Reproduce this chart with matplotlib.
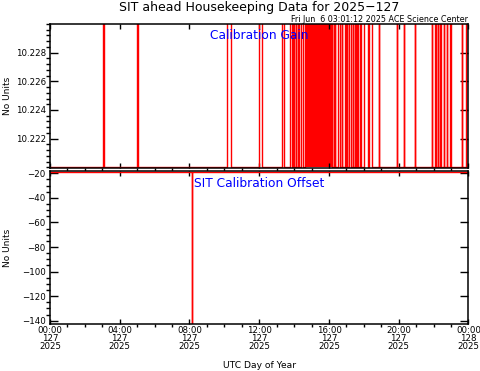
import numpy as np
import matplotlib
matplotlib.use('Agg')
import matplotlib.pyplot as plt
from matplotlib.ticker import MultipleLocator, FixedLocator, FormatStrFormatter

plt.rcParams['font.family'] = ['DejaVu Sans']

# hours of day 127 when the calibration gain sits at its high level
gain_high = [(3.05, 3.07), (5.00, 5.02), (10.16, 10.36), (11.97, 12.14),
             (13.30, 13.43), (13.78, 13.88), (13.96, 13.98), (14.11, 14.13),
             (14.25, 14.27), (14.39, 14.51), (14.64, 16.17), (16.26, 16.28),
             (16.35, 16.37), (16.50, 16.65), (16.74, 16.76), (16.93, 16.95),
             (17.03, 17.05), (17.13, 17.27), (17.37, 17.39), (17.50, 17.52),
             (17.63, 17.65), (17.79, 17.81), (17.99, 18.22), (18.28, 18.47),
             (18.84, 18.86), (19.90, 19.92), (20.28, 20.30), (20.92, 20.94),
             (21.91, 21.93), (22.10, 22.12), (22.23, 22.25), (22.38, 22.40),
             (22.57, 22.59), (22.77, 22.79), (22.96, 22.98), (23.63, 23.65),
             (23.83, 24.00)]
# stretch where the gain toggles too fast to resolve
gain_dense = [(14.64, 16.17)]
gain_low = 10.2200
gain_top = 10.2310
gain_ticks = [10.222, 10.224, 10.226, 10.228]

offset_level = -18.9
offset_dips = [(8.13, 8.15)]
offset_dip_value = -150.0

tick_hours = [0, 4, 8, 12, 16, 20, 24]
tick_labels = ['00:00\n127\n2025', '04:00\n127\n2025', '08:00\n127\n2025',
               '12:00\n127\n2025', '16:00\n127\n2025', '20:00\n127\n2025',
               '00:00\n128\n2025']


def step_series(intervals, base, level):
    t = [0.0]
    v = [base]
    for s, e in intervals:
        t += [s, s, e, e]
        v += [base, level, level, base]
    t.append(24.0)
    v.append(base)
    return np.array(t), np.array(v)


fig = plt.figure(figsize=(4.81, 3.71), dpi=100)
ax1 = fig.add_axes([50 / 481, 1 - 168 / 371, 418.5 / 481, 144 / 371])
ax2 = fig.add_axes([50 / 481, 1 - 324 / 371, 418.5 / 481, 153 / 371])

t, v = step_series(gain_high, gain_low, gain_top)
ax1.plot(t, v, color='red', lw=1.0)
for s, e in gain_dense:
    ax1.fill_between([s, e], gain_low, gain_top, color='red', lw=0)
ax1.set_ylim(10.21995, 10.2300)
ax1.yaxis.set_major_locator(FixedLocator(gain_ticks))
ax1.yaxis.set_minor_locator(MultipleLocator(0.0004))
ax1.yaxis.set_major_formatter(FormatStrFormatter('%.3f'))
ax1.text(0.5, 0.965, 'Calibration Gain', color='blue', fontsize=8.8,
         ha='center', va='top', transform=ax1.transAxes)

t, v = step_series(offset_dips, offset_level, offset_dip_value)
ax2.plot(t, v, color='red', lw=1.0)
ax2.set_ylim(-142.7, -18.1)
ax2.yaxis.set_major_locator(MultipleLocator(20))
ax2.yaxis.set_minor_locator(MultipleLocator(5))
ax2.text(0.5, 0.96, 'SIT Calibration Offset', color='blue', fontsize=8.8,
         ha='center', va='top', transform=ax2.transAxes)

for ax in (ax1, ax2):
    ax.set_xlim(0, 24)
    ax.set_xticks(tick_hours)
    ax.xaxis.set_minor_locator(MultipleLocator(1))
    ax.tick_params(direction='in', top=True, right=True, labelsize=6.2)
    ax.tick_params(axis='y', pad=3)
    ax.tick_params(axis='x', pad=1.5)
    ax.tick_params(axis='x', which='major', length=3.5, width=1)
    ax.tick_params(axis='x', which='minor', length=1.8, width=1)
    ax.tick_params(axis='y', which='major', length=6, width=1)
    ax.tick_params(axis='y', which='minor', length=3, width=1)
    ax.set_ylabel('No Units', fontsize=6.5)
    ax.yaxis.set_label_coords(-0.091, 0.5)
    for sp in ax.spines.values():
        sp.set_linewidth(1.1)

ax1.set_xticklabels([])
ax2.set_xticklabels(tick_labels, linespacing=0.87)
ax2.set_xlabel('UTC Day of Year', fontsize=6.6)
ax2.xaxis.set_label_coords(0.5, -0.245)

fig.text(259 / 481, 1 - 11 / 371, 'SIT ahead Housekeeping Data for 2025\u2212127',
         ha='center', va='baseline', fontsize=9)
fig.text(468 / 481, 1 - 19.5 / 371, 'Fri Jun  6 03:01:12 2025 ACE Science Center',
         ha='right', va='center', fontsize=5.8)

fig.savefig('out.png', dpi=100)
